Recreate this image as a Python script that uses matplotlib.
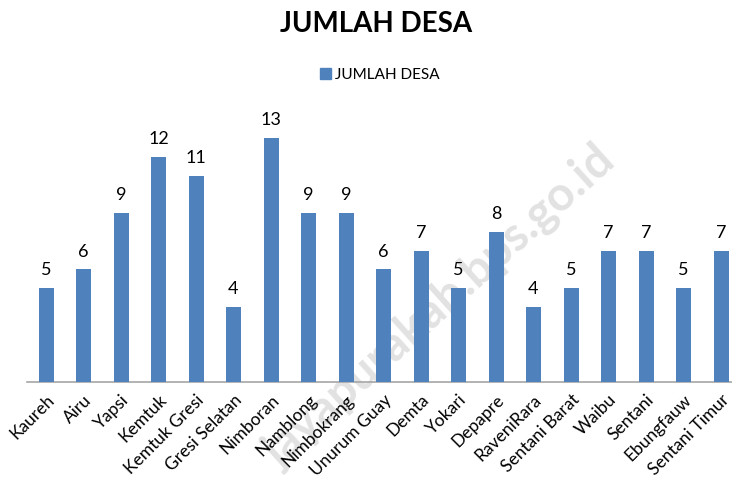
import matplotlib
matplotlib.use("Agg")
import matplotlib.pyplot as plt
from matplotlib.patches import Patch

plt.rcParams['font.family'] = ['Lato', 'DejaVu Sans']

categories = ["Kaureh", "Airu", "Yapsi", "Kemtuk", "Kemtuk Gresi", "Gresi Selatan",
              "Nimboran", "Namblong", "Nimbokrang", "Unurum Guay", "Demta", "Yokari",
              "Depapre", "RaveniRara", "Sentani Barat", "Waibu", "Sentani",
              "Ebungfauw", "Sentani Timur"]
values = [5, 6, 9, 12, 11, 4, 13, 9, 9, 6, 7, 5, 8, 4, 5, 7, 7, 5, 7]
series_name = "JUMLAH DESA"
title = "JUMLAH DESA"
watermark = "jayapurakab.bps.go.id"

W, H = 732, 496
fig = plt.figure(figsize=(W / 100, H / 100), dpi=100)

bar_color = "#4f81bd"
spacing = 37.5
left_px = 46 - spacing / 2
right_px = left_px + spacing * len(categories)
base_px = 382
unit_px = 18.77
ymax = 14
top_px = base_px - ymax * unit_px

ax = fig.add_axes([left_px / W, 1 - base_px / H, (right_px - left_px) / W, (base_px - top_px) / H])
ax.set_zorder(2)
x = list(range(len(categories)))
bars = ax.bar(x, values, width=0.4, color=bar_color, zorder=3)
ax.set_xlim(-0.5, len(categories) - 0.5)
ax.set_ylim(0, ymax)
ax.set_yticks([])
for s in ["top", "right", "left"]:
    ax.spines[s].set_visible(False)
ax.spines["bottom"].set_color("#a6a6a6")
ax.spines["bottom"].set_linewidth(1.2)
ax.set_xticks(x)
ax.set_xticklabels(categories, rotation=45, ha="right", rotation_mode="anchor", fontsize=12.5)
ax.tick_params(axis="x", length=0, pad=7)
ax.patch.set_alpha(0)

for xi, v in zip(x, values):
    ax.annotate(str(v), (xi, v), xytext=(0, 7), textcoords="offset points",
                ha="center", va="bottom", fontsize=13)

fig.text(376 / W, 1 - 24 / H, title, ha="center", va="center", fontsize=20, fontweight="bold")

fig.legend(handles=[Patch(color=bar_color)], labels=[series_name], loc="center",
           bbox_to_anchor=(380 / W, 1 - 75 / H), frameon=False, fontsize=11,
           handlelength=0.7, handleheight=0.7, handletextpad=0.3)

wm = fig.text(440 / W, 1 - 306 / H, watermark, ha="center", va="center", rotation=42,
              fontsize=34, color="#e2e2e2", zorder=0, fontweight="bold")

fig.savefig("out.png", dpi=100)
